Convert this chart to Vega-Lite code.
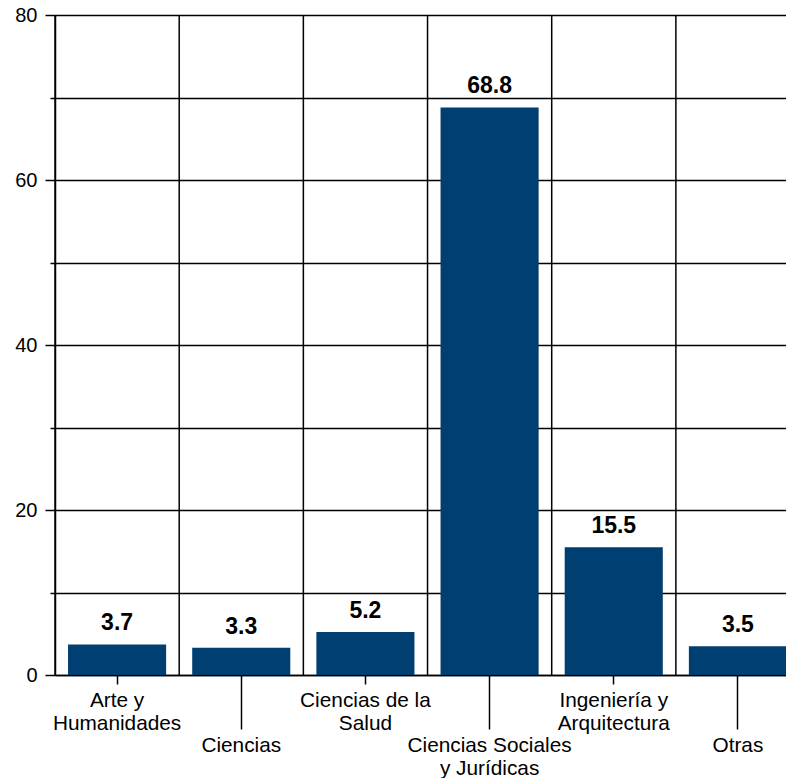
{
  "$schema": "https://vega.github.io/schema/vega-lite/v6.json",
  "autosize": "none",
  "width": 745,
  "height": 660,
  "padding": {"left": 55, "top": 15, "right": 0, "bottom": 103},
  "background": "white",
  "config": {
    "font": "Liberation Sans",
    "view": {"stroke": null},
    "axis": {
      "domainColor": "black",
      "domainWidth": 1.5,
      "tickColor": "black",
      "tickWidth": 1.5,
      "gridColor": "black",
      "gridWidth": 1.5,
      "gridOpacity": 1,
      "labelColor": "black",
      "labelFont": "Liberation Sans",
      "labelFontSize": 20,
      "title": null
    }
  },
  "data": {
    "values": [
      {"area": "Arte y\nHumanidades", "pct": 3.7},
      {"area": "Ciencias", "pct": 3.3},
      {"area": "Ciencias de la\nSalud", "pct": 5.2},
      {"area": "Ciencias Sociales\ny Jurídicas", "pct": 68.8},
      {"area": "Ingeniería y\nArquitectura", "pct": 15.5},
      {"area": "Otras", "pct": 3.5}
    ]
  },
  "encoding": {
    "x": {
      "field": "area",
      "type": "nominal",
      "sort": null,
      "scale": {"paddingInner": 0.21, "paddingOuter": 0.105},
      "axis": {
        "grid": false,
        "labelAngle": 0,
        "labelExpr": "split(datum.value, '\\n')",
        "labelFontSize": 20.8,
        "labelLineHeight": 23,
        "labelBaseline": "top",
        "tickSize": {
          "condition": {"test": "datum.value == 'Ciencias' || datum.value == 'Otras' || indexof(datum.value, 'Sociales') >= 0", "value": 54},
          "value": 9
        },
        "labelPadding": 6
      }
    }
  },
  "layer": [
    {
      "mark": {"type": "rule", "color": "black", "strokeWidth": 1.5, "xOffset": -13},
      "encoding": {
        "x": {"field": "area", "type": "nominal", "sort": null, "bandPosition": 0}
      }
    },
    {
      "mark": {"type": "bar", "color": "#003f72"},
      "encoding": {
        "y": {
          "field": "pct",
          "type": "quantitative",
          "scale": {"domain": [0, 80], "nice": false},
          "axis": {
            "values": [0, 10, 20, 30, 40, 50, 60, 70, 80],
            "labelExpr": "datum.value % 20 == 0 ? datum.label : ''",
            "tickSize": {"condition": {"test": "datum.value % 20 == 0", "value": 10}, "value": 5},
            "labelPadding": 8
          }
        }
      }
    },
    {
      "mark": {"type": "text", "baseline": "alphabetic", "dy": -14, "fontSize": 23, "fontWeight": "bold", "color": "black"},
      "encoding": {
        "y": {"field": "pct", "type": "quantitative"},
        "text": {"field": "pct", "type": "quantitative", "format": ".1f"}
      }
    }
  ]
}
